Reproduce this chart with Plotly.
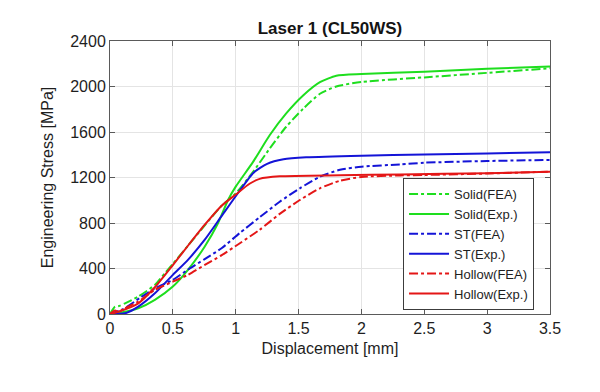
import plotly.graph_objects as go

# Solid (FEA) - dash-dot green
solid_fea_x = [0, 0.04, 0.07, 0.12, 0.225, 0.357, 0.437, 0.5, 0.62, 0.754, 0.886, 1.0, 1.138, 1.27, 1.4, 1.536, 1.67, 1.8, 2.0, 2.5, 3.0, 3.5]
solid_fea_y = [0, 65, 70, 94, 153, 256, 359, 440, 600, 780, 950, 1060, 1250, 1454, 1644, 1804, 1936, 2000, 2040, 2080, 2120, 2160]

# Solid (Exp.) - solid green
solid_exp_x = [0, 0.1, 0.225, 0.357, 0.5, 0.62, 0.754, 0.86, 0.94, 1.0, 1.138, 1.27, 1.4, 1.536, 1.67, 1.8, 2.0, 2.5, 3.0, 3.5]
solid_exp_y = [0, 15, 50, 124, 241, 388, 594, 800, 1005, 1120, 1337, 1571, 1761, 1921, 2038, 2095, 2110, 2130, 2155, 2175]

# ST (FEA) - dash-dot blue
st_fea_x = [0, 0.1, 0.25, 0.36, 0.5, 0.62, 0.75, 0.89, 1.03, 1.19, 1.35, 1.51, 1.67, 1.83, 2.0, 2.31, 2.5, 3.0, 3.5]
st_fea_y = [0, 40, 150, 226, 300, 390, 480, 580, 710, 850, 987, 1105, 1207, 1268, 1295, 1315, 1330, 1345, 1354]

# ST (Exp.) - solid blue
st_exp_x = [0, 0.12, 0.225, 0.357, 0.5, 0.62, 0.754, 0.886, 1.0, 1.14, 1.25, 1.38, 1.56, 2.0, 2.5, 3.0, 3.5]
st_exp_y = [0, 6, 65, 182, 344, 476, 653, 858, 1035, 1240, 1320, 1360, 1377, 1392, 1402, 1412, 1421]

# Hollow (FEA) - dash-dot red
hollow_fea_x = [0, 0.04, 0.07, 0.1, 0.225, 0.357, 0.5, 0.62, 0.754, 0.886, 1.03, 1.19, 1.35, 1.51, 1.67, 1.83, 2.0, 2.31, 2.5, 3.0, 3.5]
hollow_fea_y = [0, 30, 15, 40, 109, 212, 285, 344, 432, 515, 620, 740, 880, 1002, 1105, 1172, 1205, 1218, 1222, 1235, 1251]

# Hollow (Exp.) - solid red
hollow_exp_x = [0, 0.066, 0.225, 0.357, 0.5, 0.62, 0.754, 0.886, 1.0, 1.11, 1.19, 1.35, 1.83, 2.31, 3.0, 3.5]
hollow_exp_y = [0, 20, 94, 235, 430, 600, 785, 950, 1050, 1145, 1188, 1210, 1220, 1227, 1238, 1251]

x_ticks = [0, 0.5, 1, 1.5, 2, 2.5, 3, 3.5]
x_tick_labels = ["0", "0.5", "1", "1.5", "2", "2.5", "3", "3.5"]
y_ticks = [0, 400, 800, 1200, 1600, 2000, 2400]
y_tick_labels = ["0", "400", "800", "1200", "1600", "2000", "2400"]

GREEN = "rgb(30,222,30)"
BLUE = "rgb(20,20,215)"
RED = "rgb(228,22,22)"

series = [
    ("Solid(FEA)", solid_fea_x, solid_fea_y, GREEN, "dashdot"),
    ("Solid(Exp.)", solid_exp_x, solid_exp_y, GREEN, "solid"),
    ("ST(FEA)", st_fea_x, st_fea_y, BLUE, "dashdot"),
    ("ST(Exp.)", st_exp_x, st_exp_y, BLUE, "solid"),
    ("Hollow(FEA)", hollow_fea_x, hollow_fea_y, RED, "dashdot"),
    ("Hollow(Exp.)", hollow_exp_x, hollow_exp_y, RED, "solid"),
]

FONT = "Liberation Sans, Arial, sans-serif"

fig = go.Figure()
for name, xs, ys, col, dash in series:
    fig.add_trace(go.Scatter(
        x=xs, y=ys, name=name, mode="lines",
        line=dict(color=col, width=2, dash=dash, shape="spline", smoothing=0.6),
    ))

axis_common = dict(
    showgrid=True, gridcolor="rgb(228,228,228)", gridwidth=1,
    showline=True, linecolor="rgb(90,90,90)", linewidth=1, mirror="ticks",
    ticks="inside", ticklen=5, tickcolor="rgb(90,90,90)",
    zeroline=False,
    tickfont=dict(family=FONT, size=16, color="rgb(30,30,30)"),
)

# the page body adds an 8px offset, compensated in the margins
fig.update_layout(
    width=600, height=392,
    margin=dict(l=102, r=58, t=33, b=86),
    paper_bgcolor="white", plot_bgcolor="white",
    font=dict(family=FONT, color="rgb(30,30,30)"),
    title=dict(text="<b>Laser 1 (CL50WS)</b>", x=322 / 600, xanchor="center",
               y=1 - 20 / 392, yanchor="middle",
               font=dict(size=17, color="rgb(20,20,20)")),
    xaxis=dict(range=[0, 3.5], tickvals=x_ticks, ticktext=x_tick_labels,
               title=dict(text="Displacement [mm]", font=dict(size=16), standoff=6),
               **axis_common),
    yaxis=dict(range=[0, 2400], tickvals=y_ticks, ticktext=y_tick_labels,
               title=dict(text="Engineering Stress [MPa]", font=dict(size=16), standoff=12),
               **axis_common),
    legend=dict(x=0.666, y=0.498, xanchor="left", yanchor="top",
                bgcolor="white", bordercolor="rgb(60,60,60)", borderwidth=1,
                font=dict(size=13, color="rgb(30,30,30)"),
                tracegroupgap=0, itemwidth=40),
    showlegend=True,
)

fig.write_html("out.html")
